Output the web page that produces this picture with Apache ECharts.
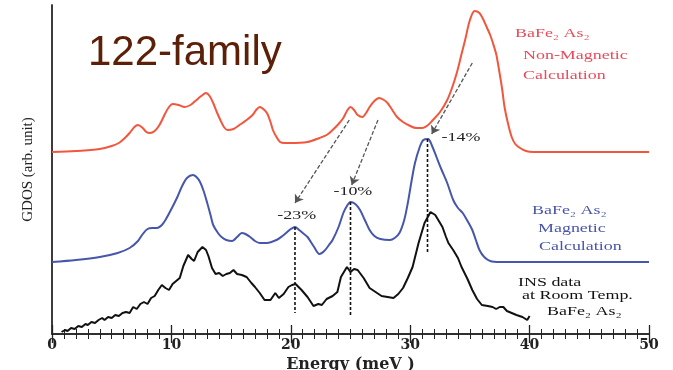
<!DOCTYPE html>
<html><head><meta charset="utf-8">
<script src="https://cdn.jsdelivr.net/npm/echarts@6/dist/echarts.min.js"></script>
<style>html,body{margin:0;padding:0;background:#fff}#c{width:673px;height:370px}</style>
</head><body><div id="c"></div>
<script>
// Energy axis ticks (meV)
const xTickLabels = [0, 10, 20, 30, 40, 50];

// Non-magnetic calculation (red)
const energyNonMag = [0, 2, 4, 5, 5.6, 6.1, 6.5, 6.9, 7.2, 7.6, 7.9, 8.2, 8.6, 9.0, 9.5, 9.8, 10.1, 10.6, 11.1, 11.6, 12.0, 12.5, 12.9, 13.2, 13.5, 13.8, 14.1, 14.4, 14.7, 15.2, 15.7, 16.3, 16.8, 17.1, 17.4, 17.7, 18.0, 18.3, 18.5, 18.8, 19.1, 19.5, 19.9, 21.4, 22.4, 23.0, 23.5, 24.0, 24.4, 24.7, 25.0, 25.3, 25.6, 26.0, 26.3, 26.6, 27.0, 27.4, 27.8, 28.1, 28.5, 28.9, 29.4, 30.0, 30.5, 31.0, 31.5, 31.9, 32.5, 33.1, 33.5, 33.9, 34.3, 34.6, 35.0, 35.4, 35.8, 36.1, 36.4, 36.7, 36.9, 37.2, 37.4, 37.7, 37.9, 38.2, 38.5, 38.8, 39.2, 39.7, 40.3, 45, 50];
const gdosNonMag   = [182, 183, 185, 188, 191, 196, 201, 207, 209, 206, 202, 201, 203, 209, 221, 227, 230, 229, 227, 229, 233, 238, 241, 238, 231, 222, 214, 207, 204, 205, 209, 214, 219, 224, 227, 225, 221, 212, 204, 197, 192, 191, 191, 192, 196, 199, 204, 210, 216, 223, 227, 224, 219, 217, 221, 227, 233, 236, 234, 231, 224, 217, 212, 208, 206, 206, 209, 214, 222, 234, 246, 261, 280, 294, 314, 323, 321, 315, 307, 299, 292, 280, 267, 245, 227, 210, 197, 190, 186, 183, 182, 182, 182];

// Magnetic calculation (blue)
const energyMag = [0, 2, 4, 5.5, 6.5, 7.2, 7.6, 8.0, 8.4, 8.8, 9.2, 9.5, 10.0, 10.5, 10.9, 11.3, 11.8, 12.1, 12.4, 12.7, 13.0, 13.3, 13.5, 13.9, 14.2, 14.6, 15.1, 15.5, 15.9, 16.2, 16.6, 17.0, 17.4, 18.0, 18.8, 19.3, 19.7, 20.0, 20.35, 20.7, 21.0, 21.4, 21.9, 22.4, 22.8, 23.2, 23.5, 24.0, 24.4, 24.7, 25.0, 25.4, 25.8, 26.2, 26.6, 27.0, 27.5, 28.3, 28.7, 29.1, 29.5, 29.8, 30.1, 30.4, 30.8, 31.1, 31.5, 31.8, 32.2, 32.6, 33.1, 33.6, 34.0, 34.4, 34.8, 35.2, 35.5, 35.8, 36.2, 36.7, 37.5, 39.4, 45, 50];
const gdosMag   = [72, 74, 77, 81, 86, 93, 100, 105, 106, 106, 109, 114, 125, 137, 148, 156, 159, 157, 152, 143, 131, 118, 109, 101, 97, 94, 93, 97, 101, 100, 97, 93, 91, 91, 94, 98, 102, 105, 107, 104, 101, 97, 88, 80, 83, 89, 94, 107, 121, 128, 132, 130, 124, 114, 104, 98, 95, 94, 96, 101, 114, 131, 152, 171, 187, 194, 195, 189, 177, 165, 151, 134, 126, 121, 113, 104, 94, 84, 77, 73, 72, 72, 72, 72];

// INS data at room temperature (black)
const energyINS = [0.8, 1.1, 1.3, 1.6, 1.9, 2.2, 2.5, 2.8, 3.0, 3.3, 3.6, 3.9, 4.2, 4.4, 4.7, 5.0, 5.3, 5.6, 5.9, 6.2, 6.5, 6.8, 7.1, 7.4, 7.7, 8.0, 8.3, 8.6, 8.9, 9.2, 9.5, 9.8, 10.1, 10.4, 10.7, 11.0, 11.4, 11.7, 11.9, 12.2, 12.6, 12.9, 13.1, 13.4, 13.7, 14.0, 14.3, 14.6, 14.9, 15.2, 15.5, 15.9, 16.3, 16.7, 17.0, 17.4, 17.8, 18.3, 18.7, 19.0, 19.4, 19.8, 20.1, 20.4, 20.9, 21.4, 21.9, 22.3, 22.6, 23.0, 23.5, 23.9, 24.2, 24.5, 24.7, 25.0, 25.3, 25.6, 26.1, 26.6, 27.1, 27.6, 28.1, 28.6, 29.0, 29.4, 29.8, 30.2, 30.7, 31.2, 31.7, 32.1, 32.4, 32.7, 33.0, 33.2, 33.6, 34.0, 34.3, 34.8, 35.2, 35.6, 36.0, 36.5, 36.9, 37.2, 37.5, 37.8, 38.1, 38.5, 38.9, 39.4, 39.8, 40.0];
const gdosINS   = [2, 4, 3, 6, 5, 8, 7, 10, 9, 12, 11, 14, 16, 14, 17, 16, 19, 18, 21, 22, 21, 27, 25, 30, 32, 30, 36, 38, 44, 49, 46, 44, 50, 53, 56, 68, 79, 75, 73, 82, 87, 84, 78, 66, 60, 61, 58, 60, 61, 64, 60, 59, 57, 51, 47, 41, 34, 34, 41, 36, 40, 47, 49, 50, 44, 37, 28, 30, 29, 35, 38, 42, 57, 63, 67, 62, 65, 64, 56, 46, 42, 38, 37, 36, 40, 46, 56, 67, 91, 111, 122, 119, 113, 107, 97, 91, 84, 76, 67, 55, 44, 35, 29, 28, 27, 25, 27, 27, 23, 21, 19, 17, 14, 18];

// Peak shift markers (vertical dashed lines)
const shiftEnergy = [20.35, 25.0, 31.45];
const shiftTop    = [107, 132, 195];
const shiftBottom = [21, 17, 82];
const shiftText   = ['-23%', '-10%', '-14%'];
const shiftLabelX = [20.5, 25.2, 34.25];
const shiftLabelY = [118, 142, 196];

// Arrows from non-magnetic peaks to magnetic peaks
const arrowFromX = [24.9, 27.3, 35.2];
const arrowFromY = [214, 214, 271];
const arrowToX   = [20.35, 25.1, 31.8];
const arrowToY   = [131, 149, 200];

const chart = echarts.init(document.getElementById('c'), null, {renderer: 'canvas'});
const zip = (xs, ys) => xs.map((x, i) => [x, ys[i]]);

const serifBold = '"DejaVu Serif"';
const series = [
  {type: 'line', data: zip(energyNonMag, gdosNonMag), smooth: 0.3, symbol: 'none',
   lineStyle: {color: '#f2563c', width: 2}, z: 3},
  {type: 'line', data: zip(energyMag, gdosMag), smooth: 0.3, symbol: 'none',
   lineStyle: {color: '#4656ab', width: 2}, z: 3},
  {type: 'line', data: zip(energyINS, gdosINS), smooth: false, symbol: 'none',
   lineStyle: {color: '#111', width: 2}, z: 3,
   markLine: {
     silent: true, symbol: ['none', 'arrow'], symbolSize: 8,
     lineStyle: {color: '#555', type: [4, 2], width: 1.3},
     label: {show: false},
     data: arrowFromX.map((x, i) => [{coord: [x, arrowFromY[i]]}, {coord: [arrowToX[i], arrowToY[i]]}])
   }}
];
shiftEnergy.forEach((x, i) => {
  series.push({type: 'line', data: [[x, shiftTop[i]], [x, shiftBottom[i]]], symbol: 'none',
    lineStyle: {color: '#111', width: 1.6, type: [3, 2]}, z: 4});
});

chart.setOption({
  animation: false,
  backgroundColor: '#fff',
  grid: {left: 52, right: 24, top: 5, bottom: 36, containLabel: false, outerBoundsMode: 'none'},
  xAxis: [
    {type: 'value', min: 0, max: 50, interval: 10, position: 'bottom',
     name: 'Energy (meV )', nameLocation: 'middle', nameGap: 21,
     nameTextStyle: {fontFamily: serifBold, fontWeight: 'bold', fontSize: 16, color: '#222'},
     axisLine: {show: true, lineStyle: {color: '#222', width: 1.5}},
     axisTick: {show: true, inside: true, length: 9, lineStyle: {color: '#222', width: 1.3}},
     minorTick: {show: true, splitNumber: 10, length: 5, lineStyle: {color: '#222', width: 1}},
     axisLabel: {margin: 4, fontFamily: serifBold, fontWeight: 'bold', fontSize: 14, color: '#222',
       formatter: v => xTickLabels.includes(v) ? String(v) : ''},
     splitLine: {show: false}},
    {type: 'value', min: 0, max: 50, interval: 10, position: 'top',
     axisLine: {show: true, lineStyle: {color: '#222', width: 1.5}},
     axisTick: {show: true, inside: true, length: 9, lineStyle: {color: '#222', width: 1.3}},
     minorTick: {show: true, splitNumber: 10, length: 5, lineStyle: {color: '#222', width: 1}},
     axisLabel: {show: false}, splitLine: {show: false}}
  ],
  yAxis: [
    {type: 'value', min: 0, max: 329, position: 'left',
     name: 'GDOS (arb. unit)', nameLocation: 'middle', nameGap: 16,
     nameTextStyle: {fontFamily: '"Liberation Serif"', fontSize: 15, color: '#222'},
     axisLine: {show: true, lineStyle: {color: '#222', width: 1.5}},
     axisTick: {show: false}, axisLabel: {show: false}, splitLine: {show: false}},
    {type: 'value', min: 0, max: 329, position: 'right',
     axisLine: {show: true, lineStyle: {color: '#333', width: 1.5}},
     axisTick: {show: false}, axisLabel: {show: false}, splitLine: {show: false}}
  ],
  series: series
});

const SX = 1.38;
const txt = (x, y, s, color, font, align) => ({
  type: 'text', x: x, y: y, scaleX: SX, z: 10,
  style: {text: s, fill: color, font: font || '13px "Liberation Serif"', align: align || 'left', verticalAlign: 'middle'}
});
const red = '#e84a5a', blue = '#4a55a8', black = '#111';
const graphics = [
  {type: 'text', x: 88, y: 53, z: 10, style: {text: '122-family', fill: '#5c2008', font: '42px "Liberation Sans"', verticalAlign: 'middle'}},
  txt(515, 34, 'BaFe₂ As₂', red),
  txt(523, 56, 'Non-Magnetic', red),
  txt(523, 76, 'Calculation', red),
  txt(532, 211, 'BaFe₂ As₂', blue),
  txt(538, 229, 'Magnetic', blue),
  txt(539, 247, 'Calculation', blue),
  txt(518, 283, 'INS data', black),
  txt(522, 296, 'at Room Temp.', black),
  txt(547, 312, 'BaFe₂ As₂', black)
];
shiftText.forEach((s, i) => {
  const p = chart.convertToPixel({gridIndex: 0}, [shiftLabelX[i], shiftLabelY[i]]);
  graphics.push(txt(p[0], p[1], s, '#222', '13px "Liberation Serif"', 'center'));
});
chart.setOption({graphic: graphics});
</script>
</body></html>
